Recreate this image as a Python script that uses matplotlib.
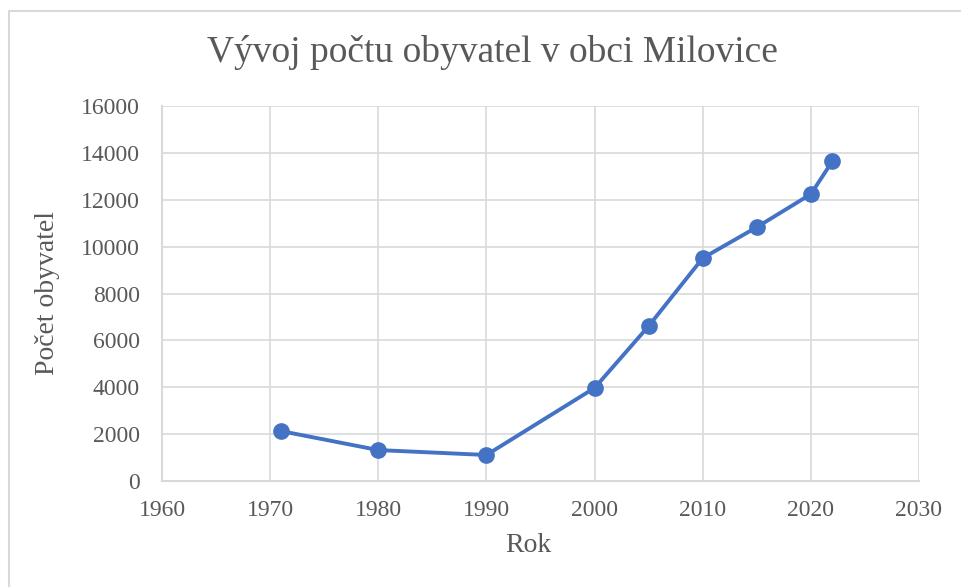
import matplotlib
matplotlib.use('Agg')
import matplotlib.pyplot as plt
from matplotlib.lines import Line2D

# population of Milovice by year
roky = [1971, 1980, 1990, 2000, 2005, 2010, 2015, 2020, 2022]
obyvatel = [2130, 1320, 1110, 3970, 6610, 9510, 10830, 12240, 13650]

xticks = [1960, 1970, 1980, 1990, 2000, 2010, 2020, 2030]
yticks = [0, 2000, 4000, 6000, 8000, 10000, 12000, 14000, 16000]

plt.rcParams['font.family'] = ['Liberation Serif', 'DejaVu Serif']
gray = '#595959'
gridc = '#D9D9D9'

fig = plt.figure(figsize=(9.61, 5.87), dpi=100)
# chart border: only left and top edges are visible
bx, by = 8.5/961, 1 - 10.5/587
fig.lines.append(Line2D([bx, bx, 1], [0, by, by], transform=fig.transFigure,
                        color=gridc, linewidth=1.5))

ax = fig.add_axes([162/961, 106/587, (919-162)/961, (481-106)/587])
ax.plot(roky, obyvatel, color='#4472C4', linewidth=2.8, marker='o',
        markersize=11, zorder=3)

ax.set_xlim(1960, 2030)
ax.set_ylim(0, 16000)
ax.set_xticks(xticks)
ax.set_yticks(yticks)
ax.grid(True, color=gridc, linewidth=1.2)
ax.set_axisbelow(True)
for s in ['top', 'right']:
    ax.spines[s].set_visible(False)
for s in ['left', 'bottom']:
    ax.spines[s].set_color(gridc)
    ax.spines[s].set_linewidth(1.5)
ax.tick_params(length=0, labelsize=17, labelcolor=gray)
ax.tick_params(axis='y', pad=16)
ax.tick_params(axis='x', pad=14)

fig.text(0.512, 0.911, 'Vývoj počtu obyvatel v obci Milovice', ha='center',
         va='center', fontsize=27, color=gray)
fig.text(528/961, 1 - 545/587, 'Rok', ha='center', va='center',
         fontsize=20, color=gray)
fig.text(48/961, 1 - 293/587, 'Počet obyvatel', ha='center', va='center',
         rotation=90, fontsize=20, color=gray)

fig.savefig('out.png', dpi=100)
